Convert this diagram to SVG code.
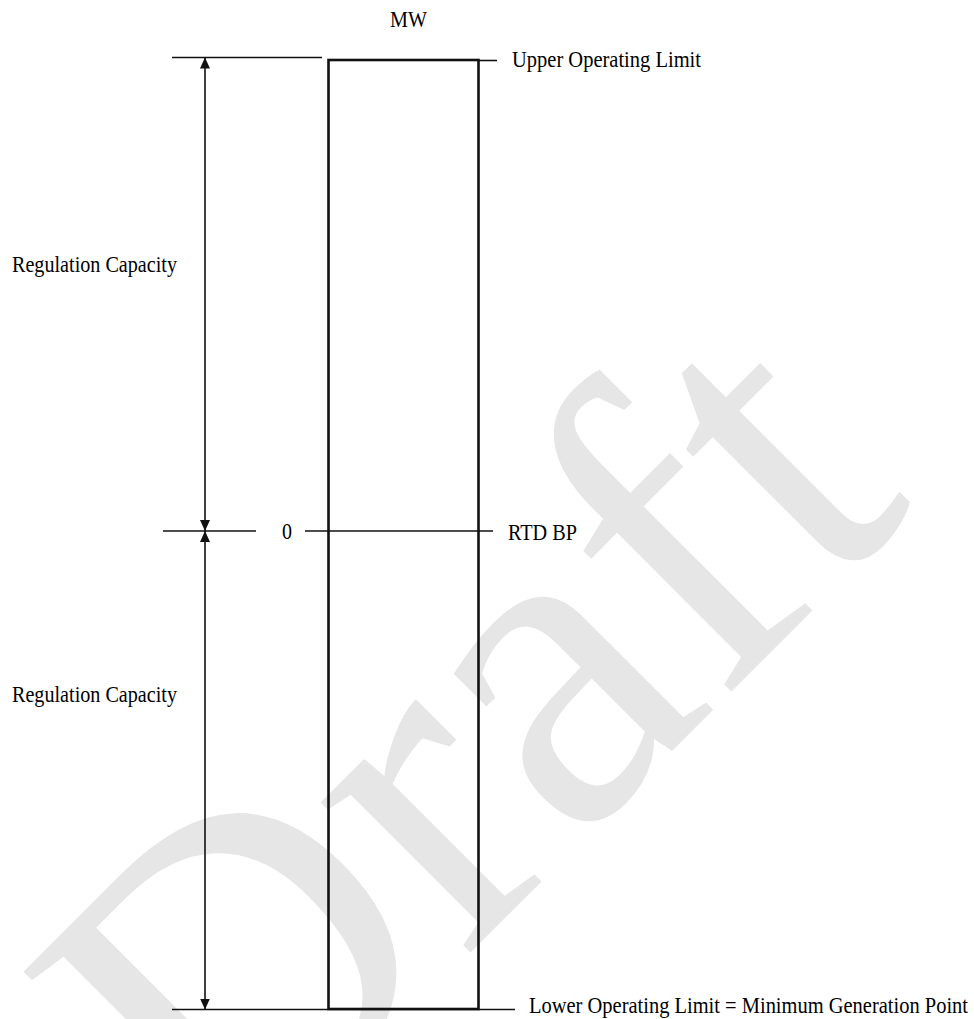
<svg xmlns="http://www.w3.org/2000/svg" width="974" height="1019" viewBox="0 0 974 1019">
<style>
.lbl{font-family:"Liberation Serif","Times New Roman",serif;font-size:24px;fill:#000}
.ln{stroke:#111;stroke-width:1.6;fill:none}
.box{stroke:#111;stroke-width:2.6;fill:none}
.wm{font-family:"Liberation Serif","Times New Roman",serif;font-size:462px;fill:#e6e6e6}
</style>
<defs>
<marker id="ah" viewBox="0 0 11 10" refX="11" refY="5" markerWidth="11" markerHeight="10" markerUnits="userSpaceOnUse" orient="auto-start-reverse">
<path d="M0,0 L11,5 L0,10 z" fill="#111"/>
</marker>
</defs>
<rect width="974" height="1019" fill="#fff"/>
<g id="watermark">
<text class="wm" transform="translate(228,1195) rotate(-45)">Draft</text>
</g>
<g id="connectors">
<line class="ln" x1="172" y1="57.5" x2="322" y2="57.5"/>
<line class="ln" x1="478" y1="60.5" x2="497" y2="60.5"/>
<line class="ln" x1="163" y1="531" x2="256" y2="531"/>
<line class="ln" x1="305" y1="531" x2="493" y2="531"/>
<line class="ln" x1="172" y1="1009.5" x2="515" y2="1009.5"/>
<line class="ln" x1="205" y1="531" x2="205" y2="57.5" marker-start="url(#ah)" marker-end="url(#ah)"/>
<line class="ln" x1="205" y1="531" x2="205" y2="1009.5" marker-start="url(#ah)" marker-end="url(#ah)"/>
</g>
<g id="unit-box">
<rect class="box" x="328.5" y="60" width="150" height="949"/>
</g>
<g id="label-mw">
<text class="lbl" x="390" y="27" font-size="22" textLength="37" lengthAdjust="spacingAndGlyphs">MW</text>
</g>
<g id="label-upper">
<text class="lbl" x="512" y="67" textLength="189" lengthAdjust="spacingAndGlyphs">Upper Operating Limit</text>
</g>
<g id="label-zero">
<text class="lbl" x="282" y="538.5" textLength="10" lengthAdjust="spacingAndGlyphs">0</text>
</g>
<g id="label-rtd">
<text class="lbl" x="508" y="540" textLength="69" lengthAdjust="spacingAndGlyphs">RTD BP</text>
</g>
<g id="label-reg-upper">
<text class="lbl" x="12" y="272" textLength="165" lengthAdjust="spacingAndGlyphs">Regulation Capacity</text>
</g>
<g id="label-reg-lower">
<text class="lbl" x="12" y="702" textLength="165" lengthAdjust="spacingAndGlyphs">Regulation Capacity</text>
</g>
<g id="label-lower">
<text class="lbl" x="529" y="1013" textLength="439" lengthAdjust="spacingAndGlyphs">Lower Operating Limit = Minimum Generation Point</text>
</g>
</svg>
